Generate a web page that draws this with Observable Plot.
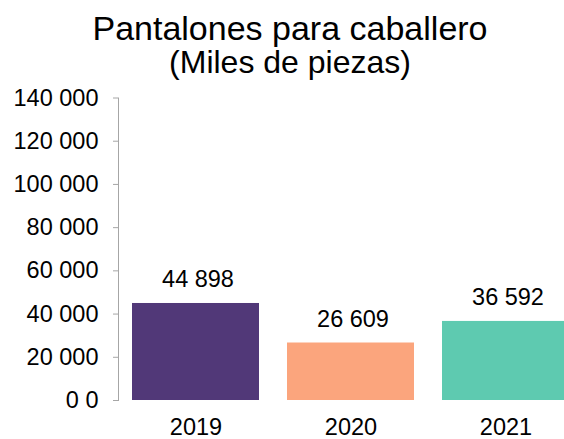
<!DOCTYPE html>
<html>
<head>
<meta charset="utf-8">
<script src="https://cdn.jsdelivr.net/npm/d3@7"></script>
<script src="https://cdn.jsdelivr.net/npm/@observablehq/plot@0.6"></script>
<style>
  html, body { margin: 0; padding: 0; background: #fff; overflow: hidden; }
  body { width: 564px; height: 439px; font-family: "Liberation Sans", Arial, sans-serif; }
  #header { display: block; }
  #chart svg { overflow: hidden; }
</style>
</head>
<body>
<svg id="header" width="564" height="85" xmlns="http://www.w3.org/2000/svg">
  <text x="290" y="40" text-anchor="middle" font-family="Liberation Sans, Arial, sans-serif" font-size="34" fill="#000">Pantalones para caballero</text>
  <text x="290" y="73" text-anchor="middle" font-family="Liberation Sans, Arial, sans-serif" font-size="32" fill="#000">(Miles de piezas)</text>
</svg>
<div id="chart"></div>
<script>
const years = ["2019", "2020", "2021"];
const values = [44898, 26609, 36592];
const colors = ["#513878", "#fba57d", "#5ecab0"];
const yTicks = [0, 20000, 40000, 60000, 80000, 100000, 120000, 140000];
const yTickLabels = ["0 0", "20 000", "40 000", "60 000", "80 000", "100 000", "120 000", "140 000"];

const data = years.map((y, i) => ({year: y, value: values[i], color: colors[i]}));
const fmt = n => d3.format(",")(n).replace(/,/g, " ");

const chart = Plot.plot({
  width: 564,
  height: 354,
  marginTop: 12.5,
  marginBottom: 39,
  marginLeft: 118,
  marginRight: 0,
  style: {fontFamily: "Liberation Sans, Arial, sans-serif", color: "#000", background: "#fff"},
  x: {domain: years, range: [118, 583], paddingInner: 0.18, paddingOuter: 0.09},
  y: {domain: [0, 140000]},
  marks: [
    Plot.barY(data, {x: "year", y: "value", fill: "color"}),
    Plot.text(data, {x: "year", y: "value", text: d => fmt(d.value), lineAnchor: "bottom", dy: -16, dx: 2, fontSize: 23.5, fill: "#000"}),
    Plot.frame({anchor: "left", stroke: "#a6a6a6"}),
    Plot.axisY({ticks: yTicks, tickFormat: d => yTickLabels[yTicks.indexOf(d)], tickSize: 5, tickPadding: 15, stroke: "#a6a6a6", fill: "#000", fontSize: 23.5, label: null}),
    Plot.axisX({tickSize: 0, tickPadding: 18, fontSize: 23.5, fill: "#000", label: null})
  ]
});
document.getElementById("chart").appendChild(chart);
</script>
</body>
</html>
